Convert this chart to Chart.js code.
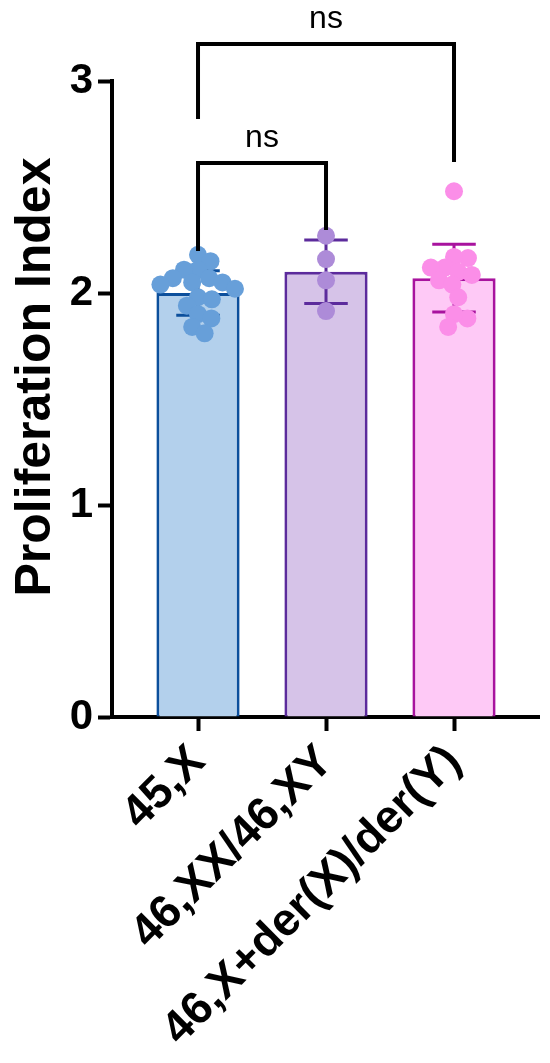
<!DOCTYPE html>
<html>
<head>
<meta charset="utf-8">
<title>Proliferation Index</title>
<script src="https://cdn.jsdelivr.net/npm/chart.js@4.4.0/dist/chart.umd.min.js"></script>
<style>
  html, body { margin: 0; padding: 0; background: #fff; }
  canvas { display: block; }
</style>
</head>
<body>
<canvas id="chart" width="550" height="1063"></canvas>
<script>
'use strict';

const groups = ['45,X', '46,XX/46,XY', '46,X+der(X)/der(Y)'];
const groupMeans = [2.00, 2.10, 2.07];
const groupSD = [0.105, 0.15, 0.16];
const monosomyValues = [2.18, 2.15, 2.11, 2.11, 2.07, 2.07, 2.05, 2.04, 2.05, 2.02, 1.98, 1.97, 1.94, 1.90, 1.88, 1.84, 1.81];
const mosaicValues = [2.27, 2.16, 2.06, 1.915];
const derValues = [2.48, 2.165, 2.17, 2.12, 2.12, 2.10, 2.085, 2.06, 2.04, 1.98, 1.88, 1.90, 1.84];
const yTicks = [0, 1, 2, 3];

// significance brackets, levels in Proliferation Index units
const bracketPairs = [[0, 1], [0, 2]];
const bracketLevels = [2.613, 3.175];
const bracketLegEnds = [[2.198, 2.297], [2.821, 2.618]];
const bracketLabels = ['ns', 'ns'];

const fills = ['#b3d0ec', '#d6c3e8', '#fec9f6'];
const edges = ['#0c4f9c', '#5c2b9c', '#a8139e'];
const dotColors = ['#679fd9', '#ad8bd8', '#fb8ee8'];
const FONT = '"Liberation Sans", Arial, Helvetica, sans-serif';

const dotSets = [monosomyValues, mosaicValues, derValues];

/** simple beeswarm: offsets in pixels so dots of given diameter don't stack */
function swarm(values, pxPerValue, diameter) {
  const order = values.map((_, i) => i).sort((a, b) => values[b] - values[a]);
  const placed = [];
  const offsets = new Array(values.length).fill(0);
  const d2 = diameter * diameter;
  for (const i of order) {
    const y = values[i] * pxPerValue;
    const near = placed.filter(p => Math.abs(p.y - y) < diameter);
    const candidates = [0];
    near.forEach(p => {
      const dx = Math.sqrt(d2 - (p.y - y) ** 2);
      candidates.push(p.x + dx, p.x - dx);
    });
    candidates.sort((a, b) => Math.abs(a) - Math.abs(b));
    const x = candidates.find(c => near.every(p => (p.x - c) ** 2 + (p.y - y) ** 2 >= d2 - 0.01));
    offsets[i] = x;
    placed.push({ x, y });
  }
  return offsets;
}

const errorBars = {
  id: 'errorBars',
  afterDatasetDraw(chart, args) {
    if (args.index !== 0) return;
    const { ctx, scales: { x, y } } = chart;
    ctx.save();
    ctx.lineWidth = 3;
    groupMeans.forEach((m, i) => {
      const cx = x.getPixelForValue(i);
      const top = y.getPixelForValue(m + groupSD[i]);
      const bot = y.getPixelForValue(m - groupSD[i]);
      const l = x.getPixelForValue(i - 0.17), r = x.getPixelForValue(i + 0.17);
      ctx.strokeStyle = edges[i];
      ctx.beginPath();
      ctx.moveTo(cx, top); ctx.lineTo(cx, bot);
      ctx.moveTo(l, top); ctx.lineTo(r, top);
      ctx.moveTo(l, bot); ctx.lineTo(r, bot);
      ctx.stroke();
    });
    ctx.restore();
  }
};

const brackets = {
  id: 'brackets',
  afterDraw(chart) {
    const { ctx, scales: { x, y } } = chart;
    ctx.save();
    ctx.strokeStyle = '#000';
    ctx.fillStyle = '#000';
    ctx.lineWidth = 4;
    ctx.lineJoin = 'miter';
    ctx.font = '32px ' + FONT;
    ctx.textAlign = 'center';
    ctx.textBaseline = 'alphabetic';
    bracketPairs.forEach(([a, b], i) => {
      const xa = x.getPixelForValue(a), xb = x.getPixelForValue(b);
      const lvl = y.getPixelForValue(bracketLevels[i]);
      ctx.beginPath();
      ctx.moveTo(xa, y.getPixelForValue(bracketLegEnds[i][0]));
      ctx.lineTo(xa, lvl);
      ctx.lineTo(xb, lvl);
      ctx.lineTo(xb, y.getPixelForValue(bracketLegEnds[i][1]));
      ctx.stroke();
      ctx.fillText(bracketLabels[i], (xa + xb) / 2, lvl - 16);
    });
    ctx.restore();
  }
};

const yTitle = {
  id: 'yTitle',
  afterDraw(chart) {
    const ctx = chart.ctx;
    ctx.save();
    ctx.translate(50, 377);
    ctx.rotate(-Math.PI / 2);
    ctx.font = 'bold 50px ' + FONT;
    ctx.fillStyle = '#000';
    ctx.textAlign = 'center';
    ctx.textBaseline = 'alphabetic';
    ctx.fillText('Proliferation Index', 0, 0);
    ctx.restore();
  }
};

const chart = new Chart('chart', {
  type: 'bar',
  data: {
    datasets: [
      {
        type: 'bar',
        order: 2,
        data: groupMeans.map((m, i) => ({ x: i, y: m })),
        backgroundColor: fills,
        borderColor: edges,
        borderWidth: 3,
        borderSkipped: 'start',
        barPercentage: 1,
        categoryPercentage: 0.65,
      },
      ...dotSets.map((vals, i) => ({
        type: 'scatter',
        order: 1,
        data: vals.map(v => ({ x: i, y: v })),
        pointRadius: 9,
        pointBackgroundColor: dotColors[i],
        pointBorderWidth: 0,
        showLine: false,
      })),
    ]
  },
  options: {
    responsive: false,
    animation: false,
    devicePixelRatio: 1,
    layout: { padding: { top: 81, right: 11, left: 0, bottom: 0 } },
    plugins: { legend: { display: false }, tooltip: { enabled: false } },
    scales: {
      x: {
        type: 'linear',
        min: -0.672,
        max: 2.664,
        offset: false,
        afterBuildTicks: s => { s.ticks = groups.map((_, i) => ({ value: i })); },
        afterFit: s => { s.height = 346; },
        grid: { display: true, offset: false, drawOnChartArea: false, tickLength: 14, tickWidth: 4, tickColor: '#000' },
        border: { display: true, width: 4, color: '#000' },
        ticks: {
          callback: v => groups[v],
          maxRotation: 45,
          minRotation: 45,
          autoSkip: false,
          padding: 4,
          color: '#000',
          font: { family: FONT, size: 46, weight: 'bold' },
        },
      },
      y: {
        min: 0,
        max: 3,
        afterBuildTicks: s => { s.ticks = yTicks.map(v => ({ value: v })); },
        afterFit: s => { s.width = 112; },
        grid: { display: true, drawOnChartArea: false, tickLength: 14, tickWidth: 4, tickColor: '#000' },
        border: { display: true, width: 4, color: '#000' },
        ticks: {
          padding: 5,
          color: '#000',
          font: { family: FONT, size: 42, weight: 'bold' },
        },
      },
    },
  },
  plugins: [errorBars, brackets, yTitle],
});

// spread the dots sideways once the scales are known
const xs = chart.scales.x, ys = chart.scales.y;
const pxPerX = xs.getPixelForValue(1) - xs.getPixelForValue(0);
const pxPerY = ys.getPixelForValue(0) - ys.getPixelForValue(1);
dotSets.forEach((vals, i) => {
  const offs = swarm(vals, pxPerY, 14);
  chart.data.datasets[i + 1].data = vals.map((v, k) => ({ x: i + offs[k] / pxPerX, y: v }));
});
chart.update();
</script>
</body>
</html>
